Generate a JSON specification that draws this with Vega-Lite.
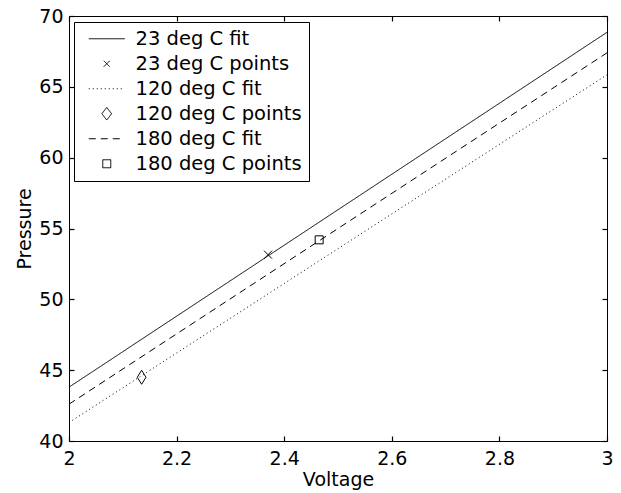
{
  "$schema": "https://vega.github.io/schema/vega-lite/v6.json",
  "width": 538,
  "height": 425,
  "autosize": {"type": "none"},
  "padding": {"left": 69, "top": 16, "right": 14, "bottom": 52},
  "background": "white",
  "config": {
    "font": "DejaVu Sans",
    "view": {"stroke": "black", "strokeWidth": 1},
    "axis": {
      "domain": false,
      "offset": -5,
      "ticks": true,
      "tickSize": 5,
      "tickColor": "black",
      "tickWidth": 1.2,
      "labelColor": "black",
      "titleColor": "black",
      "labelFont": "DejaVu Sans",
      "titleFont": "DejaVu Sans",
      "labelFontSize": 19,
      "titleFontSize": 19,
      "titleFontWeight": "normal",
      "grid": false
    },
    "legend": {
      "labelFont": "DejaVu Sans",
      "labelFontSize": 19.5,
      "labelColor": "black",
      "labelLimit": 400
    }
  },
  "data": {
    "values": [
      {"series": "23 deg C fit", "kind": "fit", "voltage": 2, "pressure": 43.8},
      {"series": "23 deg C fit", "kind": "fit", "voltage": 3, "pressure": 68.85},
      {"series": "120 deg C fit", "kind": "fit", "voltage": 2, "pressure": 41.3},
      {"series": "120 deg C fit", "kind": "fit", "voltage": 3, "pressure": 65.85},
      {"series": "180 deg C fit", "kind": "fit", "voltage": 2, "pressure": 42.6},
      {"series": "180 deg C fit", "kind": "fit", "voltage": 3, "pressure": 67.4},
      {"series": "23 deg C points", "kind": "points", "voltage": 2.37, "pressure": 53.15},
      {"series": "120 deg C points", "kind": "points", "voltage": 2.135, "pressure": 44.5},
      {"series": "180 deg C points", "kind": "points", "voltage": 2.465, "pressure": 54.2}
    ]
  },
  "resolve": {"axis": {"x": "independent", "y": "independent"}},
  "layer": [
    {
      "transform": [{"filter": "datum.kind == 'fit'"}],
      "mark": {"type": "line", "strokeWidth": 1},
      "encoding": {
        "x": {
          "field": "voltage", "type": "quantitative",
          "scale": {"domain": [2, 3], "nice": false, "zero": false},
          "axis": {"orient": "bottom", "title": "Voltage", "values": [2, 2.2, 2.4, 2.6, 2.8, 3], "format": ".1~f", "labelPadding": 8, "titlePadding": 2, "labelFlush": false}
        },
        "y": {
          "field": "pressure", "type": "quantitative",
          "scale": {"domain": [40, 70], "nice": false, "zero": false},
          "axis": {"orient": "left", "title": "Pressure", "values": [40, 45, 50, 55, 60, 65, 70], "labelPadding": 6, "titlePadding": 4, "labelFlush": false}
        },
        "detail": {"field": "series"},
        "color": {
          "field": "series", "type": "nominal",
          "scale": {
            "domain": ["23 deg C fit", "23 deg C points", "120 deg C fit", "120 deg C points", "180 deg C fit", "180 deg C points"],
            "range": ["black", "black", "black", "black", "black", "black"]
          },
          "legend": {
            "title": null,
            "orient": "none",
            "legendX": 5,
            "legendY": 6,
            "strokeColor": "black",
            "fillColor": "white",
            "padding": 7,
            "symbolSize": 100,
            "symbolOffset": 16,
            "symbolStrokeWidth": 1,
            "labelOffset": 19,
            "rowPadding": 4,
            "encode": {
              "symbols": {
                "update": {
                  "shape": {"signal": "datum.value == '23 deg C points' ? 'M-1,-1L1,1M-1,1L1,-1' : datum.value == '120 deg C points' ? 'M0,-1.75L1.35,0L0,1.75L-1.35,0Z' : datum.value == '180 deg C points' ? 'M-1,-1L1,-1L1,1L-1,1Z' : 'M-3.6,0L3.6,0'"},
                  "size": {"signal": "datum.value == '23 deg C points' ? 36 : datum.value == '120 deg C points' ? 52 : datum.value == '180 deg C points' ? 64 : 100"},
                  "strokeDash": {"signal": "datum.value == '120 deg C fit' ? [1, 3] : datum.value == '180 deg C fit' ? [7, 5] : [1, 0]"},
                  "stroke": {"value": "black"},
                  "fill": {"value": "transparent"},
                  "strokeWidth": {"value": 1},
                  "opacity": {"value": 1}
                }
              }
            }
          }
        },
        "strokeDash": {
          "field": "series", "type": "nominal",
          "scale": {"domain": ["23 deg C fit", "120 deg C fit", "180 deg C fit"], "range": [[1, 0], [1, 3], [7, 5]]},
          "legend": null
        }
      }
    },
    {
      "transform": [{"filter": "datum.kind == 'points'"}],
      "mark": {"type": "point", "filled": false, "strokeWidth": 1, "opacity": 1, "size": 64},
      "encoding": {
        "x": {
          "field": "voltage", "type": "quantitative",
          "scale": {"domain": [2, 3], "nice": false, "zero": false},
          "axis": {"orient": "top", "title": null, "labels": false, "values": [2, 2.2, 2.4, 2.6, 2.8, 3]}
        },
        "y": {
          "field": "pressure", "type": "quantitative",
          "scale": {"domain": [40, 70], "nice": false, "zero": false},
          "axis": {"orient": "right", "title": null, "labels": false, "values": [40, 45, 50, 55, 60, 65, 70]}
        },
        "color": {"field": "series", "type": "nominal"},
        "shape": {
          "field": "series", "type": "nominal",
          "scale": {"domain": ["23 deg C points", "120 deg C points", "180 deg C points"], "range": ["M-1,-1L1,1M-1,1L1,-1", "M0,-1.75L1.09,0L0,1.75L-1.09,0Z", "M-1,-1L1,-1L1,1L-1,1Z"]},
          "legend": null
        }
      }
    }
  ]
}
